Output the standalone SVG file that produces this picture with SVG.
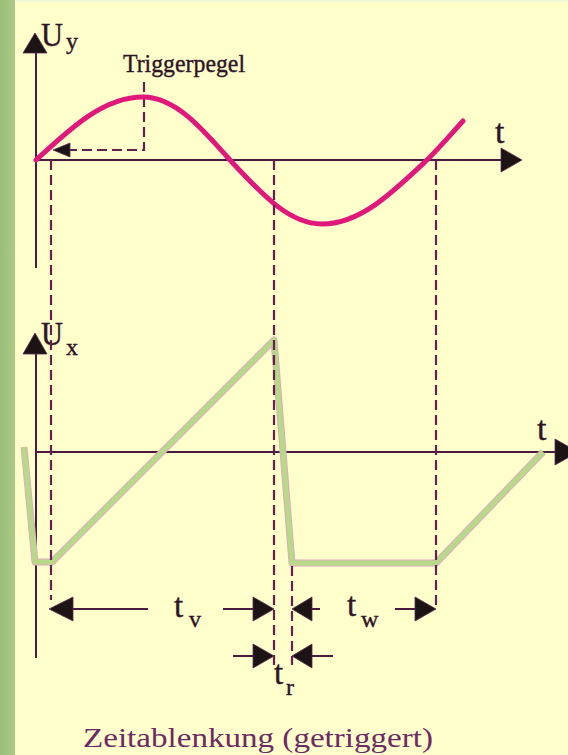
<svg xmlns="http://www.w3.org/2000/svg" width="568" height="755" viewBox="0 0 568 755">
<defs>
<style>
.axis{stroke:#4a1a40;stroke-width:2;fill:none}
.dash{stroke:#66204f;stroke-width:2.2;fill:none;stroke-dasharray:10 5}
.dim{stroke:#4a1a40;stroke-width:2;fill:none}
.head{fill:#1c1414;stroke:#5a2a50;stroke-width:0.8}
.lbl{font-family:"Liberation Serif","DejaVu Serif",serif;fill:#2e1428;stroke:#2e1428;stroke-width:0.4}
.cap{font-family:"Liberation Serif","DejaVu Serif",serif;fill:#6e2a66}
.sine{stroke:#e0187c;stroke-width:5;fill:none;stroke-linecap:round;stroke-linejoin:round}
.sawO{stroke:#e4aac4;stroke-width:7;fill:none;stroke-linejoin:round}
.saw{stroke:#b6da88;stroke-width:5;fill:none;stroke-linejoin:round}
</style>
<linearGradient id="stripe" x1="0" y1="0" x2="1" y2="0">
<stop offset="0" stop-color="#9cbe78"/>
<stop offset="1" stop-color="#acca86"/>
</linearGradient>
</defs>
<rect x="0" y="0" width="568" height="755" fill="#ffffcc"/>
<rect x="0" y="0" width="568" height="2" fill="#f0f8d8"/>
<rect x="0" y="0" width="15" height="755" fill="url(#stripe)"/>

<g id="top-plot">
<line class="axis" x1="36" y1="45" x2="36" y2="268"/>
<polygon class="head" points="35,33 23,53 47,53"/>
<text class="lbl" x="41" y="46" font-size="33" textLength="22" lengthAdjust="spacingAndGlyphs">U</text>
<text class="lbl" x="66" y="49" font-size="24">y</text>
<line class="axis" x1="36" y1="160" x2="505" y2="160"/>
<polygon class="head" points="522,160 501,148 501,172"/>
<text class="lbl" x="495" y="143" font-size="34">t</text>
</g>

<g id="trigger">
<text class="lbl" x="123" y="72" font-size="26" textLength="122" lengthAdjust="spacingAndGlyphs" stroke-width="0.2">Triggerpegel</text>
<path class="dash" d="M144,82 V150 H68"/>
<polygon class="head" points="53,150 70,143 70,157"/>
</g>

<g id="sine">
<path class="sine" d="M36,160 C71.8,126.9 104.1,97 143,97 C174.6,97 200.9,126.9 230,160 C260.8,193.1 288.6,224 322,224 C360.2,224 391.9,193.1 427,160 C440,147 452,133 463,121"/>
</g>

<g id="bottom-plot">
<line class="axis" x1="36" y1="345" x2="36" y2="658"/>
<polygon class="head" points="35,333 23,354 47,354"/>
<text class="lbl" x="41" y="345" font-size="33" textLength="22" lengthAdjust="spacingAndGlyphs">U</text>
<text class="lbl" x="66" y="355" font-size="24">x</text>
<line class="axis" x1="36" y1="452" x2="560" y2="452"/>
<polygon class="head" points="578,452 555,439 555,465"/>
<text class="lbl" x="537" y="440" font-size="34">t</text>
</g>

<g id="sawtooth">
<path class="sawO" d="M24,447 L35,562 L52,562 L274,340 L292,563 L436,563 L543,452"/>
<path class="saw" d="M24,447 L35,562 L52,562 L274,340 L292,563 L436,563 L543,452"/>
</g>

<g id="connectors">
<line class="dash" x1="51" y1="160" x2="51" y2="600"/>
<line class="dash" x1="274" y1="160" x2="274" y2="665"/>
<line class="dash" x1="436" y1="160" x2="436" y2="609"/>
<line class="dash" x1="292" y1="566" x2="292" y2="665"/>
</g>

<g id="tv">
<line class="dim" x1="70" y1="609" x2="148" y2="609"/>
<polygon class="head" points="49,609 73,597 73,621"/>
<line class="dim" x1="223" y1="609" x2="255" y2="609"/>
<polygon class="head" points="274,609 253,597 253,621"/>
<text class="lbl" x="174" y="617" font-size="33">t</text>
<text class="lbl" x="189" y="627" font-size="24">v</text>
</g>

<g id="tw">
<line class="dim" x1="310" y1="609" x2="320" y2="609"/>
<polygon class="head" points="292,609 312,597 312,621"/>
<line class="dim" x1="395" y1="609" x2="417" y2="609"/>
<polygon class="head" points="436,609 415,597 415,621"/>
<text class="lbl" x="347" y="616" font-size="33">t</text>
<text class="lbl" x="361" y="627" font-size="24">w</text>
</g>

<g id="tr">
<line class="dim" x1="233" y1="656" x2="255" y2="656"/>
<polygon class="head" points="274,656 253,644 253,668"/>
<line class="dim" x1="310" y1="656" x2="333" y2="656"/>
<polygon class="head" points="292,656 312,644 312,668"/>
<text class="lbl" x="274" y="684" font-size="33">t</text>
<text class="lbl" x="286" y="695" font-size="24">r</text>
</g>

<g id="caption">
<text class="cap" x="83" y="747" font-size="28" textLength="350" lengthAdjust="spacingAndGlyphs">Zeitablenkung (getriggert)</text>
</g>
</svg>
